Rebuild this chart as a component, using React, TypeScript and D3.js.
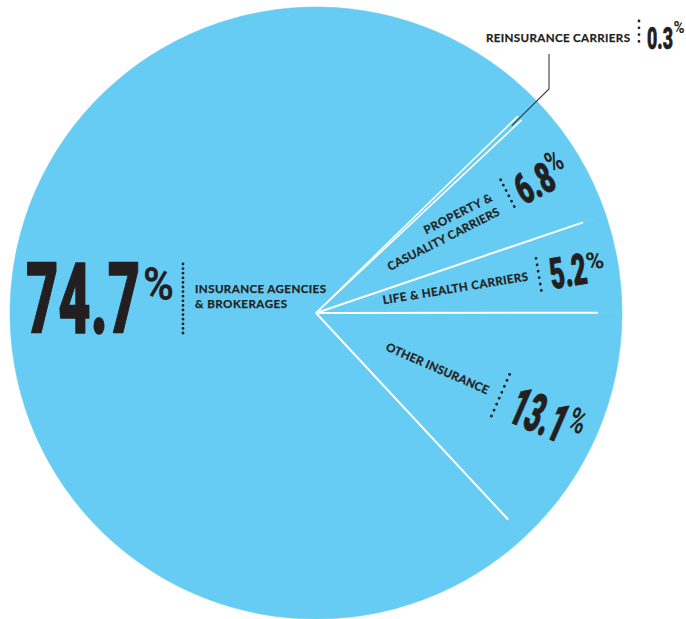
import React from 'react';
import * as d3 from 'd3';

// ---- data ----
const categories = [
  'Reinsurance Carriers',
  'Property & Casualty Carriers',
  'Life & Health Carriers',
  'Other Insurance',
  'Insurance Agencies & Brokerages',
];
const shares = [0.3, 6.8, 5.2, 13.1, 74.7];
const valueLabels = ['0.3', '6.8', '5.2', '13.1', '74.7'];
const labelLines = [
  ['REINSURANCE CARRIERS'],
  ['PROPERTY &', 'CASUALITY CARRIERS'],
  ['LIFE & HEALTH CARRIERS'],
  ['OTHER INSURANCE'],
  ['INSURANCE AGENCIES', '& BROKERAGES'],
];

// ---- layout ----
const W = 686;
const H = 619;
const cx = 316;
const cy = 313;
const R = 306;
const SEP = 282;
const FILL = '#66CCF4';
const INK = '#231F20';
const deg = Math.PI / 180;
const NUM_FONT = "Roboto, 'Liberation Sans', sans-serif";
const LABEL_FONT = "Lato, 'Open Sans', sans-serif";
const CAP = 0.711;

type Spec = {
  rotated: boolean;
  adjust: number;
  lines: { x: number; y: number; w: number; anchor: 'start' | 'end' }[];
  dots: { x: number; y1: number; y2: number; gap: number };
  num: { x: number; top: number; bottom: number; w: number; sw: number };
  pct: { x: number; top: number; bottom: number; w: number };
};

const specs: Spec[] = [
  {
    rotated: false, adjust: 0,
    lines: [{ x: 486, y: 42.3, w: 144, anchor: 'start' }],
    dots: { x: 639, y1: 21, y2: 48, gap: 6.8 },
    num: { x: 647, top: 26.3, bottom: 49.7, w: 26, sw: 0.6 },
    pct: { x: 673.5, top: 21.5, bottom: 33, w: 11 },
  },
  {
    rotated: true, adjust: 4,
    lines: [
      { x: 209, y: -20, w: 75, anchor: 'end' },
      { x: 209, y: -4, w: 124, anchor: 'end' },
    ],
    dots: { x: 225, y1: -35, y2: 0, gap: 6 },
    num: { x: 234, top: -32.5, bottom: -1.5, w: 39, sw: 0.8 },
    pct: { x: 273, top: -38, bottom: -17, w: 16 },
  },
  {
    rotated: true, adjust: 0,
    lines: [{ x: 68, y: 2.5, w: 147, anchor: 'start' }],
    dots: { x: 226, y1: -18, y2: 18, gap: 6.5 },
    num: { x: 237, top: -16, bottom: 15.5, w: 37, sw: 0.8 },
    pct: { x: 274.5, top: -15, bottom: 2, w: 18 },
  },
  {
    rotated: true, adjust: 0,
    lines: [{ x: 78, y: 6.5, w: 111, anchor: 'start' }],
    dots: { x: 202, y1: -21, y2: 25, gap: 6.5 },
    num: { x: 217, top: -16, bottom: 23, w: 57, sw: 1 },
    pct: { x: 274.5, top: -18, bottom: 6, w: 17 },
  },
  {
    rotated: false, adjust: 0,
    lines: [
      { x: 195, y: 293, w: 131, anchor: 'start' },
      { x: 195, y: 308, w: 92, anchor: 'start' },
    ],
    dots: { x: 183, y1: 264, y2: 333, gap: 4.6 },
    num: { x: 26, top: 263, bottom: 334, w: 114, sw: 1.5 },
    pct: { x: 143, top: 266.5, bottom: 300, w: 31 },
  },
];

export default function App() {
  const startDeg = 90 - (shares[0] + shares[1] + shares[2]) * 3.6;
  const pie = d3
    .pie<number>()
    .sort(null)
    .value((d) => d)
    .startAngle(startDeg * deg)
    .endAngle(startDeg * deg + 2 * Math.PI);
  const arcs = pie(shares);
  const arcGen = d3
    .arc<d3.PieArcDatum<number>>()
    .innerRadius(0)
    .outerRadius(R);

  const mid0 = (arcs[0].startAngle + arcs[0].endAngle) / 2;
  const calloutStart: [number, number] = [cx + 271 * Math.sin(mid0), cy - 271 * Math.cos(mid0)];
  const callout = d3.line()([calloutStart, [549, 89], [549, 54]]);

  return (
    <svg
      width={W}
      height={H}
      viewBox={`0 0 ${W} ${H}`}
      style={{ position: 'absolute', left: 0, top: 0, background: '#fff' }}
    >
      <g transform={`translate(${cx},${cy})`}>
        {arcs.map((a, i) => (
          <path key={categories[i]} d={arcGen(a) || ''} fill={FILL} stroke={FILL} strokeWidth={0.6} />
        ))}
        {arcs.map((a, i) => (
          <line
            key={'sep' + i}
            x1={0}
            y1={0}
            x2={SEP * Math.sin(a.startAngle)}
            y2={-SEP * Math.cos(a.startAngle)}
            stroke="#fff"
            strokeWidth={i === 0 || i === 1 ? 1.6 : 2}
          />
        ))}
      </g>
      <path d={callout || ''} fill="none" stroke="#3a3a3a" strokeWidth={1.1} />
      {specs.map((s, i) => {
        const a = arcs[i];
        const midDeg = (a.startAngle + a.endAngle) / 2 / deg;
        const rot = midDeg - 90 + s.adjust;
        const tf = s.rotated ? `translate(${cx},${cy}) rotate(${rot})` : undefined;
        const nh = s.num.bottom - s.num.top - s.num.sw;
        const ph = s.pct.bottom - s.pct.top;
        return (
          <g key={'lab' + i} transform={tf} fill={INK}>
            {labelLines[i].map((t, j) => (
              <text
                key={j}
                x={s.lines[j].x}
                y={s.lines[j].y}
                textAnchor={s.lines[j].anchor}
                textLength={s.lines[j].w}
                lengthAdjust="spacing"
                fontFamily={LABEL_FONT}
                fontWeight={700}
                fontSize={11.6}
                stroke={INK}
                strokeWidth={0.25}
              >
                {t}
              </text>
            ))}
            <line
              x1={s.dots.x}
              x2={s.dots.x}
              y1={s.dots.y1}
              y2={s.dots.y2}
              stroke={INK}
              strokeWidth={2.8}
              strokeLinecap="round"
              strokeDasharray={`0 ${s.dots.gap}`}
            />
            <text
              x={s.num.x}
              y={s.num.bottom - s.num.sw / 2}
              textLength={s.num.w}
              lengthAdjust="spacingAndGlyphs"
              fontFamily={NUM_FONT}
              fontWeight={900}
              fontSize={nh / CAP}
              stroke={INK}
              strokeWidth={s.num.sw}
              strokeLinejoin="round"
            >
              {valueLabels[i]}
            </text>
            <text
              x={s.pct.x}
              y={s.pct.bottom}
              textLength={s.pct.w}
              lengthAdjust="spacingAndGlyphs"
              fontFamily={NUM_FONT}
              fontWeight={700}
              fontSize={ph / CAP}
            >
              %
            </text>
          </g>
        );
      })}
    </svg>
  );
}
